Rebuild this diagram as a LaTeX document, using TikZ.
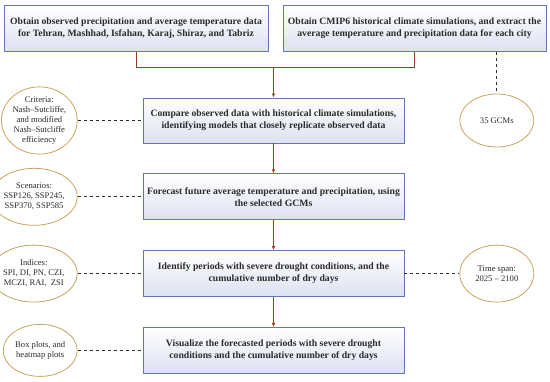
\documentclass[tikz,border=0pt]{standalone}
\usepackage{fontspec}
\setmainfont{Liberation Serif}
\usetikzlibrary{arrows.meta,positioning,shapes.geometric}
\definecolor{boxedge}{HTML}{6474BC}
\definecolor{boxtint}{HTML}{DDE1F1}
\definecolor{ovaledge}{HTML}{C8A45E}
\definecolor{flow}{HTML}{9C3B25}
\definecolor{ink}{HTML}{2B2B2B}

\begin{document}
\begin{tikzpicture}[
        x=1pt,y=1pt,
        node distance=30pt,
        stage/.style={draw=boxedge,thick,top color=white,bottom color=boxtint,
          minimum width=261pt,minimum height=46pt,align=center,
          font=\fontsize{9.7}{12}\selectfont\bfseries,text=ink},
        oval/.style={ellipse,draw=ovaledge,thick,fill=white,
          minimum width=74pt,minimum height=57pt,inner sep=0pt,align=center,
          font=\fontsize{8.6}{10}\selectfont,text=ink},
        arr/.style={-{Latex[length=4pt,width=3.5pt]},thick,draw=flow},
        link/.style={thick,draw=flow},
        dotlink/.style={dashed,thick,draw=ink}
      ]
        \useasboundingbox (0,0) rectangle (550,381);
        % input data
        \node[stage,minimum width=264pt] (obs) at (136,352.5)
          {Obtain observed precipitation and average temperature data\\for Tehran, Mashhad, Isfahan, Karaj, Shiraz, and Tabriz};
        \node[stage,minimum width=263pt] (cmip) at (414.5,352.5)
          {Obtain CMIP6 historical climate simulations, and extract the\\average temperature and precipitation data for each city};
        % main steps
        \node[stage,minimum height=45pt] (compare) at (273.5,260.5)
          {Compare observed data with historical climate simulations,\\identifying models that closely replicate observed data};
        \node[stage,below=of compare] (forecast)
          {Forecast future average temperature and precipitation, using\\the selected GCMs};
        \node[stage,below=of forecast] (identify)
          {Identify periods with severe drought conditions, and the\\cumulative number of dry days};
        \node[stage,below=of identify] (visual)
          {Visualize the forecasted periods with severe drought\\conditions and the cumulative number of dry days};
        % side notes
        \node[oval,minimum height=60pt,left=65pt of compare] (crit)
          {Criteria:\\Nash--Sutcliffe,\\and modified\\Nash--Sutcliffe\\efficiency};
        \node[oval,left=65pt of forecast] (scen) {Scenarios:\\SSP126, SSP245,\\SSP370, SSP585};
        \node[oval,left=65pt of identify] (idx) {Indices:\\SPI, DI, PN, CZI,\\MCZI, RAI, \ ZSI};
        \node[oval,minimum height=52pt,left=65pt of visual] (plots) {Box plots, and\\heatmap plots};
        \node[oval,minimum height=53pt,right=55pt of compare] (gcm) {35 GCMs};
        \node[oval,right=55pt of identify] (span) {Time span:\\2025 -- 2100};
        % connectors
        \coordinate[above=30pt of compare] (join);
        \draw[link] (obs.south) |- (join) -| (cmip.south);
        \draw[arr] (join) -- (compare);
        \draw[arr] (compare) -- (forecast);
        \draw[arr] (forecast) -- (identify);
        \draw[arr] (identify) -- (visual);
        \draw[dotlink] (crit) -- (compare);
        \draw[dotlink] (scen) -- (forecast);
        \draw[dotlink] (idx) -- (identify);
        \draw[dotlink] (plots) -- (visual);
        \draw[dotlink] (identify) -- (span);
        \draw[dotlink] (gcm.north |- cmip.south) -- (gcm.north);
      \end{tikzpicture}
\end{document}
